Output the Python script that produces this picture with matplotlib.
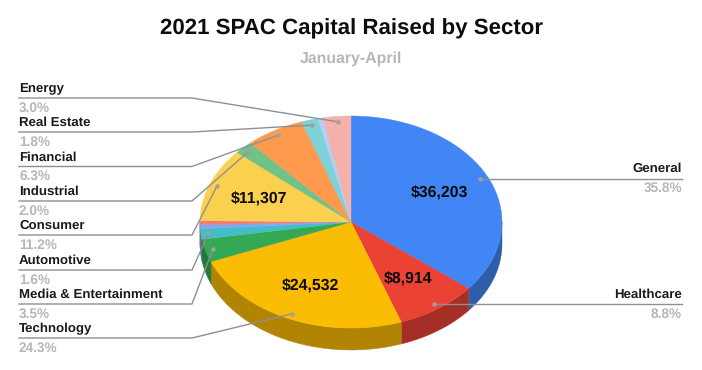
import numpy as np
import matplotlib
matplotlib.use('Agg')
import matplotlib.pyplot as plt

plt.rcParams['font.family'] = ['Liberation Sans', 'DejaVu Sans']
plt.rcParams['text.hinting'] = 'no_hinting'

# slices run clockwise from 12 o'clock, unlabeled ones have an empty name
names = ['General', 'Healthcare', 'Technology', 'Media & Entertainment', 'Automotive',
         '', '', 'Consumer', 'Industrial', 'Financial', 'Real Estate', '', 'Energy']
shares = [35.8, 8.8, 24.3, 3.5, 1.6, 0.6, 0.6, 11.2, 2.0, 6.3, 1.8, 0.5, 3.0]
dollars = ['$36,203', '$8,914', '$24,532', '', '', '', '', '$11,307', '', '', '', '', '']
top_colors = ['#4285f4', '#ea4335', '#fbbc04', '#34a853', '#46bdc6', '#7baaf7', '#f07b72',
              '#fcd04f', '#71c287', '#ff994d', '#7ed1d7', '#b3cefb', '#f4b0aa']
side_colors = ['#2f5ea9', '#a52f26', '#b18503', '#25773b', '#317f86', '#5677ad', '#a95750',
               '#b29237', '#50895f', '#b46c36', '#599398', '#7e91b1', '#ac7c78']

# label rows on the left, top to bottom (name, row y of the leader)
left_rows = [('Energy', 98), ('Real Estate', 132), ('Financial', 166.5), ('Industrial', 201),
             ('Consumer', 235), ('Automotive', 270), ('Media & Entertainment', 304), ('Technology', 338)]
right_rows = [('General', 178), ('Healthcare', 304)]

# the pie's ellipse in pixels
cx, cy, rx, ry, depth = 351, 222, 151, 106, 22
LEADER = '#8f8f8f'
PCT = '#b7b7b7'


def ell(theta, r=1.0):
    # theta in degrees clockwise from the top
    t = np.radians(theta)
    return cx + r * rx * np.sin(t), cy - r * ry * np.cos(t)


fig = plt.figure(figsize=(7.02, 3.7), dpi=100)
ax = fig.add_axes([0, 0, 1, 1])
ax.set_xlim(0, 702)
ax.set_ylim(370, 0)
ax.axis('off')

edges = np.concatenate([[0], np.cumsum(shares)]) / sum(shares) * 360
mids = (edges[:-1] + edges[1:]) / 2

# side wall first, only the front half of the ellipse shows
for i in range(len(shares)):
    a, b = max(edges[i], 90), min(edges[i + 1], 270)
    if b <= a:
        continue
    th = np.linspace(a, b, 60)
    x, y = ell(th)
    ax.fill(np.r_[x, x[::-1]], np.r_[y, (y + depth)[::-1]], color=side_colors[i], lw=0.3, zorder=1)

for i in range(len(shares)):
    th = np.linspace(edges[i], edges[i + 1], 120)
    x, y = ell(th)
    ax.fill(np.r_[cx, x], np.r_[cy, y], color=top_colors[i], lw=0.3, zorder=2)

for i, txt in enumerate(dollars):
    if txt:
        x, y = ell(mids[i], 0.65)
        ax.text(x, y + 1.5, txt, ha='center', va='center', fontsize=11.4, fontweight='bold',
                color='#0d0d0d', zorder=5)


def label_row(name, row_y, side):
    i = names.index(name)
    px, py = ell(mids[i], 0.95)
    pct = f'{shares[i]:.1f}%'
    if side == 'left':
        ax.plot([19, 192, px], [row_y, row_y, py], color=LEADER, lw=1, zorder=3)
        tx, ha = 19, 'left'
    else:
        ax.plot([px, 682], [py, py], color=LEADER, lw=1, zorder=3)
        tx, ha = 682, 'right'
    ax.text(tx, row_y - 3, name, ha=ha, va='bottom', fontsize=9.5, fontweight='bold', color='#1a1a1a')
    ax.text(tx, row_y + 3.5, pct, ha=ha, va='top', fontsize=9.8, fontweight='bold', color=PCT)
    ax.plot([px], [py], 'o', ms=3.2, color='#a0a0a0', mew=0, zorder=4)


for name, row_y in left_rows:
    label_row(name, row_y, 'left')
for name, row_y in right_rows:
    label_row(name, row_y, 'right')

ax.text(351, 29, '2021 SPAC Capital Raised by Sector', ha='center', va='center',
        fontsize=16, fontweight='bold', color='#0d0d0d')
ax.text(351, 59, 'January-April', ha='center', va='center', fontsize=11.4,
        fontweight='bold', color=PCT)

fig.savefig('out.png', dpi=100)
